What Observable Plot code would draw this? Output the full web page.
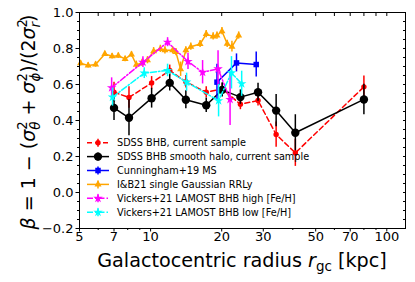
<!DOCTYPE html>
<html><head><meta charset="utf-8">
<script src="https://cdn.jsdelivr.net/npm/d3@7"></script>
<script src="https://cdn.jsdelivr.net/npm/@observablehq/plot@0.6"></script>
<style>body{margin:0;background:#fff} svg{font-family:"DejaVu Sans",sans-serif}</style>
</head><body><div id="chart"></div>
<script>
// ---- tick values ----
const xTicks = [5, 7, 10, 20, 30, 50, 70, 100];
const xMinor = [6, 8, 9, 40, 60, 80, 90];
const yTicks = [-0.2, 0, 0.2, 0.4, 0.6, 0.8, 1.0];
const yMinor = [-0.15, -0.1, -0.05, 0.05, 0.1, 0.15, 0.25, 0.3, 0.35, 0.45, 0.5, 0.55, 0.65, 0.7, 0.75, 0.85, 0.9, 0.95];

// ---- SDSS BHB, current sample (red) ----
const redR = [7.0, 8.1, 10.1, 12.05, 14.1, 17.2, 20.1, 24.0, 28.5, 34.0, 41.0, 80.0];
const redB = [0.557, 0.528, 0.609, 0.678, 0.615, 0.557, 0.575, 0.49, 0.511, 0.322, 0.22, 0.587];
const redE = [0.055, 0.06, 0.035, 0.03, 0.035, 0.03, 0.03, 0.03, 0.03, 0.07, 0.075, 0.06];

// ---- SDSS BHB smooth halo (black) ----
const blkR = [7.0, 8.1, 10.1, 12.05, 14.1, 17.2, 20.1, 24.0, 28.5, 34.0, 41.0, 80.0];
const blkB = [0.47, 0.415, 0.524, 0.609, 0.515, 0.485, 0.57, 0.53, 0.557, 0.455, 0.332, 0.517];
const blkE = [0.07, 0.1, 0.055, 0.045, 0.05, 0.04, 0.04, 0.04, 0.05, 0.09, 0.1, 0.085];

// ---- Cunningham+19 MS (blue) ----
const bluR = [19.1, 23.1, 28.0];
const bluB = [0.613, 0.72, 0.711];
const bluE = [0.1, 0.05, 0.07];

// ---- I&B21 single Gaussian RRLy (orange) ----
const orgR = [5.05, 5.44, 5.85, 6.4, 6.87, 7.3, 7.8, 8.3, 8.7, 9.2, 9.7, 10.3, 11.0, 11.5, 12.4, 12.8, 13.4, 14.1, 14.8, 16.2, 17.2, 18.4, 19.1, 20.05, 21.1, 22.1, 23.6];
const orgB = [0.718, 0.706, 0.711, 0.77, 0.757, 0.76, 0.742, 0.767, 0.71, 0.72, 0.735, 0.785, 0.798, 0.79, 0.79, 0.78, 0.685, 0.79, 0.81, 0.825, 0.88, 0.867, 0.872, 0.896, 0.826, 0.81, 0.872];
const orgE = [0.015, 0.015, 0.015, 0.015, 0.015, 0.015, 0.015, 0.015, 0.02, 0.02, 0.02, 0.02, 0.02, 0.02, 0.02, 0.02, 0.04, 0.02, 0.02, 0.02, 0.02, 0.02, 0.02, 0.02, 0.02, 0.03, 0.02];

// ---- Vickers+21 LAMOST BHB high [Fe/H] (magenta) ----
const magR = [6.84, 9.28, 11.8, 14.4, 16.6, 19.3, 21.7];
const magB = [0.582, 0.724, 0.835, 0.728, 0.668, 0.687, 0.517];
const magE = [0.055, 0.03, 0.025, 0.045, 0.065, 0.1, 0.145];

// ---- Vickers+21 LAMOST BHB low [Fe/H] (cyan) ----
const cyaR = [6.9, 9.4, 11.8, 14.2, 19.4, 22.0, 24.3];
const cyaB = [0.53, 0.663, 0.678, 0.613, 0.51, 0.665, 0.604];
const cyaE = [0.05, 0.03, 0.035, 0.05, 0.09, 0.09, 0.07];

const seriesNames = [
  "SDSS BHB, current sample",
  "SDSS BHB smooth halo, current sample",
  "Cunningham+19 MS",
  "I&B21 single Gaussian RRLy",
  "Vickers+21 LAMOST BHB high [Fe/H]",
  "Vickers+21 LAMOST BHB low [Fe/H]"
];

const styles = [
  {color: "#ff0000", symbol: "circle",   r: 2.7, dash: "5,3"},
  {color: "#000000", symbol: "circle",   r: 4.2, dash: null},
  {color: "#0000ff", symbol: "square",   r: 3.1, dash: null},
  {color: "#ffa500", symbol: "triangle", r: 2.6, dash: null},
  {color: "#ff00ff", symbol: "star",     r: 3.0, dash: "6,2,1.5,2"},
  {color: "#00ffff", symbol: "star",     r: 3.0, dash: "6,2,1.5,2"}
];

const raw = [[redR, redB, redE], [blkR, blkB, blkE], [bluR, bluB, bluE], [orgR, orgB, orgE], [magR, magB, magE], [cyaR, cyaB, cyaE]];
const series = raw.map(([R, B, E], i) => ({
  name: seriesNames[i], ...styles[i],
  data: R.map((r, j) => ({r, b: B[j], e: E[j]}))
}));

const marks = [];
for (const s of series) {
  marks.push(Plot.line(s.data, {x: "r", y: "b", stroke: s.color, strokeWidth: 1.5, strokeDasharray: s.dash}));
  marks.push(Plot.ruleX(s.data, {x: "r", y1: d => d.b - d.e, y2: d => d.b + d.e, stroke: s.color, strokeWidth: 1.5}));
  marks.push(Plot.dot(s.data, {x: "r", y: "b", symbol: () => s.symbol, fill: s.color, stroke: "none", r: s.r}));
}

const fmtY = d => d.toFixed(1).replace("-", "\u2212");
const chart = Plot.plot({
  width: 415, height: 282,
  marginLeft: 79, marginRight: 10, marginTop: 12, marginBottom: 54,
  x: {type: "log", domain: [5, 120], label: null},
  y: {domain: [-0.2, 1.0], label: null},
  symbol: {type: "identity"},
  style: {fontFamily: "DejaVu Sans", fontSize: "13px", color: "black", background: "white"},
  marks: [
    Plot.axisX([...xTicks], {tickSize: 3.5, tickFormat: () => "", label: null}),
    Plot.text(xTicks, {x: d => d, text: d => String(d), frameAnchor: "bottom", dy: 12, fontSize: 13, fill: "black"}),
    Plot.axisX(xMinor, {tickSize: 2, tickFormat: () => "", label: null}),
    Plot.axisX([...xTicks, ...xMinor], {anchor: "top", tickSize: -3, tickFormat: () => "", label: null}),
    Plot.axisY(yTicks, {tickSize: 3.5, tickPadding: 2.5, tickFormat: fmtY, fontSize: 13, label: null}),
    Plot.axisY(yMinor, {tickSize: 2, tickFormat: () => "", label: null}),
    Plot.axisY([...yTicks, ...yMinor], {anchor: "right", tickSize: -3, tickFormat: () => "", label: null}),
    ...marks,
    Plot.frame({stroke: "black", strokeWidth: 1})
  ]
});
document.getElementById("chart").append(chart);

const svg = d3.select(chart);

function richText(g, parts, fs) {
  const t = g.append("text").attr("font-size", fs).attr("fill", "black").attr("font-family", "DejaVu Sans");
  for (const p of parts) {
    const ts = t.append("tspan").text(p.t);
    if (p.i) ts.attr("font-style", "italic");
    if (p.s) ts.attr("font-size", fs * p.s);
    if (p.dy) ts.attr("dy", p.dy);
    if (p.dx) ts.attr("dx", p.dx);
  }
  return t;
}

// x label
richText(svg.append("g").attr("transform", "translate(242,267)"), [
  {t: "Galactocentric radius "}, {t: "r", i: true}, {t: "gc", s: 0.7, dy: 4}, {t: " [kpc]", dy: -4}
], 19.2).attr("text-anchor", "middle");

// y label
const fy = 19;
const sup = -0.42 * fy, sub = 0.67 * fy, back = -0.25 * fy, sdx = -0.445 * fy;
richText(svg.append("g").attr("transform", "translate(35,122) rotate(-90)"), [
  {t: "β", i: true}, {t: " = 1 − ("}, {t: "σ", i: true}, {t: "2", s: 0.7, dy: sup}, {t: "θ", s: 0.7, i: true, dy: sub, dx: sdx},
  {t: " + ", dy: back}, {t: "σ", i: true}, {t: "2", s: 0.7, dy: sup}, {t: "ϕ", s: 0.7, i: true, dy: sub, dx: sdx},
  {t: ")/(2", dy: back}, {t: "σ", i: true}, {t: "2", s: 0.7, dy: sup}, {t: "r", s: 0.7, i: true, dy: sub, dx: sdx},
  {t: ")", dy: back}
], fy).attr("text-anchor", "middle");

// legend
const lg = svg.append("g");
const symMap = {circle: d3.symbolCircle, square: d3.symbolSquare, triangle: d3.symbolTriangle, star: d3.symbolStar};
series.forEach((s, i) => {
  const y = 142.7 + 13.9 * i;
  const row = lg.append("g").attr("transform", `translate(0,${y})`);
  row.append("line").attr("x1", 87).attr("x2", 109).attr("y1", 0).attr("y2", 0)
    .attr("stroke", s.color).attr("stroke-width", 1.5).attr("stroke-dasharray", s.dash);
  row.append("line").attr("x1", 98).attr("x2", 98).attr("y1", -4).attr("y2", 4)
    .attr("stroke", s.color).attr("stroke-width", 1.5);
  row.append("path").attr("transform", "translate(98,0)")
    .attr("d", d3.symbol(symMap[s.symbol], Math.PI * s.r * s.r)()).attr("fill", s.color);
  row.append("text").attr("x", 117).attr("y", 0).attr("dy", "0.35em").attr("text-anchor", "start")
    .attr("font-size", 9.7).attr("fill", "black").text(s.name);
});
</script></body></html>
